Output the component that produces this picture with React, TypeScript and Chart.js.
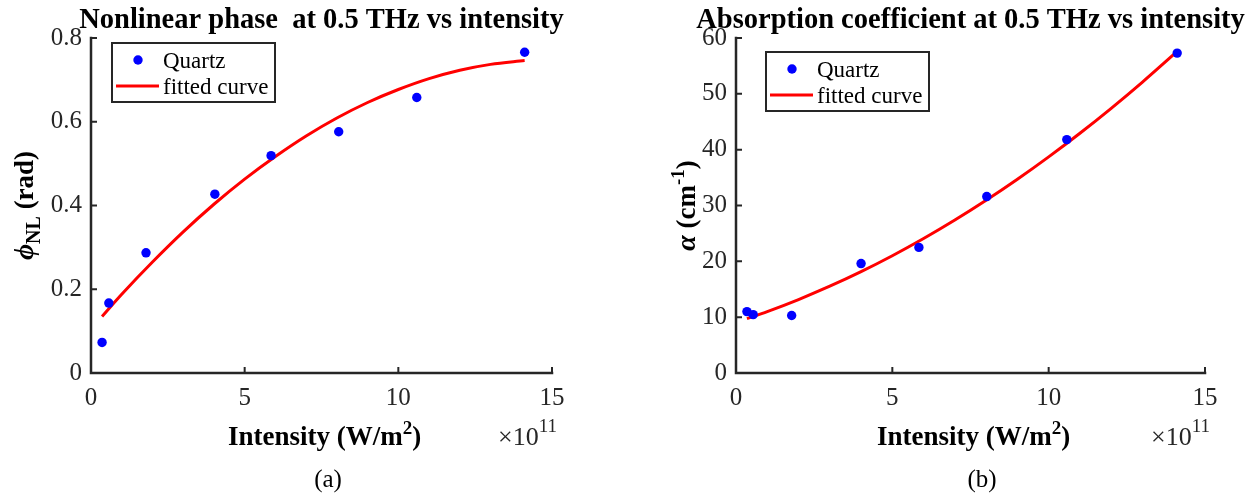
import React, { useEffect, useRef } from 'react';
import { Chart, registerables } from 'chart.js';

Chart.register(...registerables);

// ---------- data (intensity in units of 1e11 W/m^2) ----------
const intensityTicks = [0, 5, 10, 15];
const phaseTicks = [0, 0.2, 0.4, 0.6, 0.8];
const alphaTicks = [0, 10, 20, 30, 40, 50, 60];

const phaseIntensity = [0.36, 0.58, 1.79, 4.03, 5.86, 8.06, 10.6, 14.11];
const phaseValues = [0.073, 0.167, 0.287, 0.427, 0.519, 0.576, 0.658, 0.766];
const phaseFitIntensity = [0.36, 1, 2, 3, 4, 5, 6, 7, 8, 9, 10, 11, 12, 13, 14.11];
const phaseFitValues = [0.135, 0.188, 0.265, 0.337, 0.403, 0.463, 0.517, 0.566, 0.609, 0.646, 0.677, 0.703, 0.723, 0.737, 0.746];

const alphaIntensity = [0.35, 0.55, 1.78, 4.0, 5.85, 8.02, 10.58, 14.11];
const alphaValues = [11.0, 10.45, 10.3, 19.6, 22.5, 31.6, 41.8, 57.3];
const alphaFitIntensity = [0.35, 1, 2, 3, 4, 5, 6, 7, 8, 9, 10, 11, 12, 13, 14.11];
const alphaFitValues = [9.73, 11.0, 13.16, 15.54, 18.15, 21.0, 24.08, 27.39, 30.93, 34.7, 38.71, 42.94, 47.41, 52.11, 57.6];

const seriesName = 'Quartz';
const fitName = 'fitted curve';

const SERIF = "'Liberation Serif', 'Times New Roman', serif";
const AXIS = '#262626';

type Part = { text: string; font: string; dy?: number };

function partsWidth(ctx: CanvasRenderingContext2D, parts: Part[]) {
  let w = 0;
  for (const p of parts) {
    ctx.font = p.font;
    w += ctx.measureText(p.text).width;
  }
  return w;
}

function drawParts(ctx: CanvasRenderingContext2D, parts: Part[], x: number, y: number, align: 'left' | 'center' | 'right') {
  const w = partsWidth(ctx, parts);
  let cx = align === 'center' ? x - w / 2 : align === 'left' ? x : x - w;
  ctx.textAlign = 'left';
  ctx.textBaseline = 'alphabetic';
  for (const p of parts) {
    ctx.font = p.font;
    ctx.fillText(p.text, cx, y + (p.dy || 0));
    cx += ctx.measureText(p.text).width;
  }
}

type Spec = {
  title: string;
  yLabel: Part[];
  yLabelX: number;
  caption: string;
  captionX: number;
  ptX: number[];
  ptY: number[];
  fitX: number[];
  fitY: number[];
  yTicks: number[];
  yMax: number;
  yWidth: number;
  padRight: number;
  legendDX: number;
  legendDY: number;
};

const xLabel: Part[] = [
  { text: 'Intensity (W/m', font: `bold 27px ${SERIF}` },
  { text: '2', font: `bold 19px ${SERIF}`, dy: -11 },
  { text: ')', font: `bold 27px ${SERIF}` },
];
const expLabel: Part[] = [
  { text: '\u00d710', font: `26px ${SERIF}` },
  { text: '11', font: `19px ${SERIF}`, dy: -13 },
];

function Panel({ left, width, spec }: { left: number; width: number; spec: Spec }) {
  const ref = useRef<HTMLCanvasElement>(null);
  useEffect(() => {
    const canvas = ref.current;
    if (!canvas) return;
    const decor = {
      id: 'decor',
      afterDraw(chart: any) {
        const ctx: CanvasRenderingContext2D = chart.ctx;
        const a = chart.chartArea;
        const xs = chart.scales.x;
        const ys = chart.scales.y;
        ctx.save();
        // axes lines
        ctx.strokeStyle = AXIS;
        ctx.lineWidth = 2.5;
        ctx.lineCap = 'square';
        ctx.beginPath();
        ctx.moveTo(a.left, a.top);
        ctx.lineTo(a.left, a.bottom);
        ctx.lineTo(a.right, a.bottom);
        ctx.stroke();
        // inward ticks
        ctx.lineWidth = 2;
        ctx.lineCap = 'butt';
        ctx.beginPath();
        for (const v of intensityTicks) {
          const px = xs.getPixelForValue(v);
          ctx.moveTo(px, a.bottom);
          ctx.lineTo(px, a.bottom - 6);
        }
        for (const v of spec.yTicks) {
          const py = ys.getPixelForValue(v);
          ctx.moveTo(a.left, py);
          ctx.lineTo(a.left + 6, py);
        }
        ctx.stroke();

        const cx = (a.left + a.right) / 2;
        // title
        ctx.fillStyle = '#000';
        drawParts(ctx, [{ text: spec.title, font: `bold 28.5px ${SERIF}` }], cx, 28, 'center');
        // x label
        ctx.fillStyle = '#000';
        drawParts(ctx, xLabel, cx + 3, 445, 'center');
        ctx.fillStyle = AXIS;
        drawParts(ctx, expLabel, a.right + 5, 445, 'right');
        // caption
        ctx.fillStyle = '#000';
        drawParts(ctx, [{ text: spec.caption, font: `25px ${SERIF}` }], spec.captionX, 487, 'center');
        // y label
        ctx.save();
        ctx.translate(spec.yLabelX, (a.top + a.bottom) / 2);
        ctx.rotate(-Math.PI / 2);
        drawParts(ctx, spec.yLabel, 0, 0, 'center');
        ctx.restore();

        // legend
        const bx = a.left + spec.legendDX;
        const by = a.top + spec.legendDY;
        const bw = 163;
        const bh = 59;
        ctx.fillStyle = '#fff';
        ctx.fillRect(bx, by, bw, bh);
        ctx.strokeStyle = AXIS;
        ctx.lineWidth = 2;
        ctx.strokeRect(bx, by, bw, bh);
        ctx.fillStyle = '#0000ff';
        ctx.beginPath();
        ctx.arc(bx + 26, by + 17, 4.7, 0, Math.PI * 2);
        ctx.fill();
        ctx.strokeStyle = '#ff0000';
        ctx.lineWidth = 3;
        ctx.beginPath();
        ctx.moveTo(bx + 4, by + 43);
        ctx.lineTo(bx + 47, by + 43);
        ctx.stroke();
        ctx.fillStyle = '#000';
        drawParts(ctx, [{ text: seriesName, font: `23px ${SERIF}` }], bx + 51, by + 25, 'left');
        drawParts(ctx, [{ text: fitName, font: `23px ${SERIF}` }], bx + 51, by + 51, 'left');
        ctx.restore();
      },
    };

    const chart = new Chart(canvas, {
      type: 'scatter',
      data: {
        datasets: [
          {
            type: 'line',
            label: fitName,
            data: spec.fitX.map((x, i) => ({ x, y: spec.fitY[i] })),
            borderColor: '#ff0000',
            backgroundColor: '#ff0000',
            borderWidth: 3,
            pointRadius: 0,
            cubicInterpolationMode: 'monotone',
            fill: false,
            order: 2,
          },
          {
            type: 'scatter',
            label: seriesName,
            data: spec.ptX.map((x, i) => ({ x, y: spec.ptY[i] })),
            backgroundColor: '#0000ff',
            borderColor: '#0000ff',
            borderWidth: 0,
            pointRadius: 4.7,
            order: 1,
          },
        ],
      } as any,
      options: {
        responsive: false,
        animation: false,
        devicePixelRatio: 1,
        layout: { padding: { left: 0, right: spec.padRight, top: 38, bottom: 0 } },
        plugins: { legend: { display: false }, tooltip: { enabled: false }, title: { display: false } },
        scales: {
          x: {
            type: 'linear',
            min: 0,
            max: 15,
            afterBuildTicks: (s: any) => {
              s.ticks = intensityTicks.map((v) => ({ value: v }));
            },
            afterFit: (s: any) => {
              s.height = 121;
            },
            grid: { display: false },
            border: { display: false },
            ticks: { font: { family: SERIF, size: 25 }, color: AXIS, padding: 2, maxRotation: 0, autoSkip: false },
          },
          y: {
            type: 'linear',
            min: 0,
            max: spec.yMax,
            afterBuildTicks: (s: any) => {
              s.ticks = spec.yTicks.map((v) => ({ value: v }));
            },
            afterFit: (s: any) => {
              s.width = spec.yWidth;
            },
            grid: { display: false },
            border: { display: false },
            ticks: { font: { family: SERIF, size: 25 }, color: AXIS, padding: 1, autoSkip: false },
          },
        },
      } as any,
      plugins: [decor],
    });
    return () => chart.destroy();
  }, []);
  return (
    <canvas
      ref={ref}
      width={width}
      height={494}
      style={{ position: 'absolute', left, top: 0, width, height: 494, display: 'block' }}
    />
  );
}

const phaseSpec: Spec = {
  title: 'Nonlinear phase  at 0.5 THz vs intensity',
  yLabel: [
    { text: '\u03d5', font: `italic bold 28px ${SERIF}` },
    { text: 'NL', font: `bold 20px ${SERIF}`, dy: 7 },
    { text: ' (rad)', font: `bold 27px ${SERIF}` },
  ],
  yLabelX: 33,
  caption: '(a)',
  captionX: 328,
  ptX: phaseIntensity,
  ptY: phaseValues,
  fitX: phaseFitIntensity,
  fitY: phaseFitValues,
  yTicks: phaseTicks,
  yMax: 0.8,
  yWidth: 91,
  padRight: 74,
  legendDX: 21,
  legendDY: 5,
};

const alphaSpec: Spec = {
  title: 'Absorption coefficient at 0.5 THz vs intensity',
  yLabel: [
    { text: '\u03b1', font: `italic bold 28px ${SERIF}` },
    { text: ' (cm', font: `bold 27px ${SERIF}` },
    { text: '-1', font: `bold 19px ${SERIF}`, dy: -11 },
    { text: ')', font: `bold 27px ${SERIF}` },
  ],
  yLabelX: 69,
  caption: '(b)',
  captionX: 356,
  ptX: alphaIntensity,
  ptY: alphaValues,
  fitX: alphaFitIntensity,
  fitY: alphaFitValues,
  yTicks: alphaTicks,
  yMax: 60,
  yWidth: 110,
  padRight: 46,
  legendDX: 30,
  legendDY: 14,
};

export default function App() {
  return (
    <div style={{ position: 'absolute', left: 0, top: 0, width: 1251, height: 494, background: '#fff' }}>
      <Panel left={0} width={626} spec={phaseSpec} />
      <Panel left={626} width={625} spec={alphaSpec} />
    </div>
  );
}
